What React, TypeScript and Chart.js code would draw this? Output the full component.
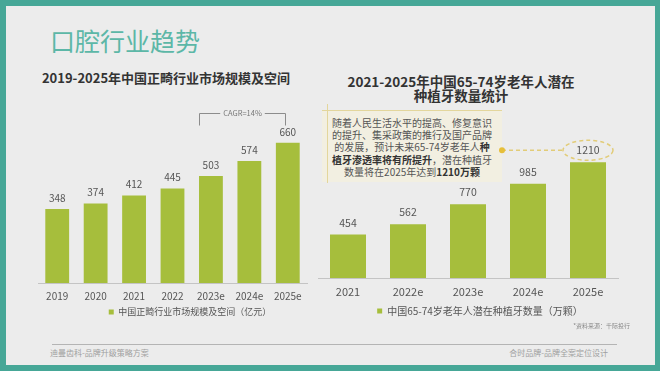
import React, { useEffect, useRef } from "react";
import { Chart, registerables } from "chart.js";

Chart.register(...registerables);

// ---------- data ----------
const leftCategories = ["2019", "2020", "2021", "2022", "2023e", "2024e", "2025e"];
const leftValues = [348, 374, 412, 445, 503, 574, 660];
const leftSeriesLabel = "中国正畸行业市场规模及空间（亿元）";
const cagrLabel = "CAGR=14%";

const rightCategories = ["2021", "2022e", "2023e", "2024e", "2025e"];
const rightValues = [454, 562, 770, 985, 1210];
const rightSeriesLabel = "中国65-74岁老年人潜在种植牙数量（万颗）";

// ---------- styles ----------
const FONT = '"Noto Sans CJK SC", "Noto Sans", sans-serif';
const GREEN = "#a6be3c";
const TEAL = "#46a797";
const BG = "#ececec";

Chart.defaults.font.family = FONT;

function valueLabelsPlugin(size: number, gap: number) {
  return {
    id: "valueLabels",
    afterDatasetsDraw(chart: any) {
      const ctx = chart.ctx;
      const meta = chart.getDatasetMeta(0);
      const data = chart.data.datasets[0].data;
      ctx.save();
      ctx.font = `${size}px ${FONT}`;
      ctx.fillStyle = "#555";
      ctx.textAlign = "center";
      ctx.textBaseline = "middle";
      meta.data.forEach((bar: any, i: number) => {
        ctx.fillText(String(data[i]), bar.x, bar.y - gap);
      });
      ctx.restore();
    },
  };
}

const cagrPlugin = {
  id: "cagr",
  afterDraw(chart: any) {
    const ctx = chart.ctx;
    const meta = chart.getDatasetMeta(0);
    const a = meta.data[4];
    const b = meta.data[6];
    const x1 = Math.round(a.x - a.width / 2) + 0.5;
    const x2 = Math.round(b.x - 3) + 0.5;
    const top = Math.round(chart.chartArea.top) + 0.5;
    const bot = top + 12;
    ctx.save();
    ctx.font = `7.5px ${FONT}`;
    const tw = ctx.measureText(cagrLabel).width;
    const mid = (x1 + x2) / 2;
    ctx.strokeStyle = "#8c8c8c";
    ctx.lineWidth = 1;
    ctx.beginPath();
    ctx.moveTo(x1, bot);
    ctx.lineTo(x1, top);
    ctx.lineTo(mid - tw / 2 - 3, top);
    ctx.moveTo(mid + tw / 2 + 3, top);
    ctx.lineTo(x2, top);
    ctx.lineTo(x2, bot);
    ctx.stroke();
    ctx.fillStyle = "#777";
    ctx.textAlign = "center";
    ctx.textBaseline = "middle";
    ctx.fillText(cagrLabel, mid, top);
    ctx.restore();
  },
};

const RIGHT_CANVAS_LEFT = 300;
const DOT_PAGE_X = 502;

const calloutPlugin = {
  id: "callout",
  afterDraw(chart: any) {
    const ctx = chart.ctx;
    const meta = chart.getDatasetMeta(0);
    const last = meta.data[meta.data.length - 1];
    const cx = last.x;
    const cy = last.y - 12;
    const rx = 25;
    const ry = 10;
    const dotX = DOT_PAGE_X - RIGHT_CANVAS_LEFT;
    ctx.save();
    ctx.strokeStyle = "#e2cc78";
    ctx.lineWidth = 1.5;
    ctx.setLineDash([4, 3]);
    ctx.beginPath();
    ctx.ellipse(cx, cy, rx, ry, 0, 0, Math.PI * 2);
    ctx.stroke();
    ctx.beginPath();
    ctx.moveTo(dotX, cy);
    ctx.lineTo(cx - rx, cy);
    ctx.stroke();
    ctx.setLineDash([]);
    ctx.fillStyle = "#e6bf3a";
    ctx.beginPath();
    ctx.arc(dotX, cy, 3, 0, Math.PI * 2);
    ctx.fill();
    ctx.restore();
  },
};

function makeConfig(opts: {
  categories: string[];
  values: number[];
  label: string;
  yMax: number;
  padding: any;
  rightAxisW: number;
  barPct: number;
  tickSize: number;
  tickPad: number;
  axisH: number;
  legendSize: number;
  legendPad: number;
  plugins: any[];
}): any {
  return {
    type: "bar",
    data: {
      labels: opts.categories,
      datasets: [
        {
          label: opts.label,
          data: opts.values,
          backgroundColor: GREEN,
          borderWidth: 0,
          barPercentage: opts.barPct,
          categoryPercentage: 1,
        },
      ],
    },
    options: {
      responsive: false,
      animation: false,
      devicePixelRatio: 1,
      layout: { padding: opts.padding },
      scales: {
        x: {
          clip: false,
          grid: { display: false, drawTicks: false },
          border: { display: true, color: "#c4c4c4" },
          ticks: {
            color: "#555",
            font: { size: opts.tickSize },
            padding: opts.tickPad,
            maxRotation: 0,
            autoSkip: false,
          },
          afterFit: (s: any) => {
            s.height = opts.axisH;
          },
        },
        y: {
          position: "right",
          min: 0,
          max: opts.yMax,
          grid: { display: false, drawTicks: false },
          border: { display: false },
          ticks: { display: false },
          afterFit: (s: any) => {
            s.width = opts.rightAxisW;
          },
        },
      },
      plugins: {
        legend: {
          position: "bottom",
          maxHeight: 20,
          labels: {
            boxWidth: 5,
            boxHeight: 5,
            color: "#555",
            font: { size: opts.legendSize },
            padding: opts.legendPad,
          },
        },
        tooltip: { enabled: false },
        title: { display: false },
      },
    },
    plugins: opts.plugins,
  };
}

function BarChart({ config, left, top, width, height }: any) {
  const ref = useRef<HTMLCanvasElement>(null);
  useEffect(() => {
    const chart = new Chart(ref.current as HTMLCanvasElement, config);
    return () => chart.destroy();
  }, []);
  return (
    <canvas
      ref={ref}
      width={width}
      height={height}
      style={{ position: "absolute", left, top, width, height }}
    />
  );
}

export default function App() {
  useEffect(() => {
    document.body.style.margin = "0";
  }, []);

  const leftConfig = makeConfig({
    categories: leftCategories,
    values: leftValues,
    label: leftSeriesLabel,
    yMax: 800,
    padding: { left: 8, right: 0, top: 13, bottom: 0 },
    rightAxisW: 35,
    barPct: 0.62,
    tickSize: 10,
    tickPad: 7,
    axisH: 20,
    legendSize: 9,
    legendPad: 4.5,
    plugins: [valueLabelsPlugin(10, 11), cagrPlugin],
  });

  const rightConfig = makeConfig({
    categories: rightCategories,
    values: rightValues,
    label: rightSeriesLabel,
    yMax: 1600,
    padding: { left: 18, right: 3, top: 25, bottom: 0 },
    rightAxisW: 24,
    barPct: 0.6,
    tickSize: 11,
    tickPad: 7.4,
    axisH: 20,
    legendSize: 10,
    legendPad: 8,
    plugins: [valueLabelsPlugin(10.5, 12), calloutPlugin],
  });

  const abs: any = { position: "absolute" };

  return (
    <div
      style={{
        position: "fixed",
        left: 0,
        top: 0,
        width: 660,
        height: 371,
        background: TEAL,
        fontFamily: FONT,
        overflow: "hidden",
      }}
    >
      <div style={{ ...abs, left: 6, top: 6, width: 649, height: 359, background: BG }} />

      <div style={{ ...abs, left: 50, top: 25, fontSize: 25, lineHeight: "30px", color: "#5cb7a7" }}>
        口腔行业趋势
      </div>

      <div
        style={{
          ...abs,
          left: 0,
          width: 332,
          top: 70,
          textAlign: "center",
          fontSize: 13,
          lineHeight: "16px",
          fontWeight: 700,
          color: "#333",
        }}
      >
        2019-2025年中国正畸行业市场规模及空间
      </div>

      <div
        style={{
          ...abs,
          left: 300,
          width: 322,
          top: 74,
          textAlign: "center",
          fontSize: 13.5,
          lineHeight: "14px",
          fontWeight: 700,
          color: "#333",
        }}
      >
        2021-2025年中国65-74岁老年人潜在
        <br />
        种植牙数量统计
      </div>

      {/* callout box */}
      <div
        style={{
          ...abs,
          left: 322,
          top: 110,
          width: 180,
          height: 72,
          background: "#f2efe1",
          borderTop: "1px solid #e3d69c",
          boxSizing: "border-box",
        }}
      />
      <div style={{ ...abs, left: 327, top: 104, width: 1, height: 79, background: "#e3d69c" }} />
      <div
        style={{
          ...abs,
          left: 312,
          top: 117,
          width: 200,
          textAlign: "center",
          fontSize: 10,
          lineHeight: "12.2px",
          color: "#555",
          whiteSpace: "nowrap",
        }}
      >
        随着人民生活水平的提高、修复意识
        <br />
        的提升、集采政策的推行及国产品牌
        <br />
        的发展，预计未来65-74岁老年人<b style={{ color: "#333" }}>种</b>
        <br />
        <b style={{ color: "#333" }}>植牙渗透率将有所提升</b>，潜在种植牙
        <br />
        数量将在2025年达到<b style={{ color: "#333" }}>1210万颗</b>
      </div>

      <BarChart config={leftConfig} left={30} top={100} width={312} height={223} />
      <BarChart config={rightConfig} left={RIGHT_CANVAS_LEFT} top={100} width={345} height={218} />

      <div
        style={{
          ...abs,
          left: 500,
          width: 130,
          top: 322,
          textAlign: "right",
          fontSize: 6,
          lineHeight: "8px",
          color: "#888",
        }}
      >
        *资料来源：千际投行
      </div>

      <div style={{ ...abs, left: 52, top: 344, width: 565, height: 1, background: "#b4b4b4" }} />
      <div style={{ ...abs, left: 50, top: 348, fontSize: 8, lineHeight: "10px", color: "#a0a0a0" }}>
        迪曼齿科-品牌升级策略方案
      </div>
      <div
        style={{
          ...abs,
          left: 408,
          width: 200,
          top: 348,
          textAlign: "right",
          fontSize: 8,
          lineHeight: "10px",
          color: "#a0a0a0",
        }}
      >
        合时品牌-品牌全案定位设计
      </div>
    </div>
  );
}
